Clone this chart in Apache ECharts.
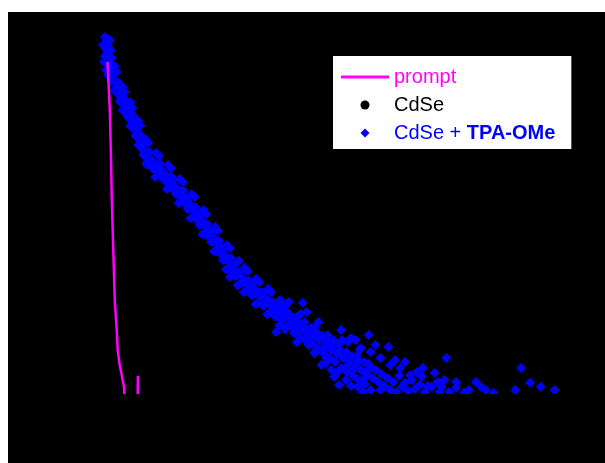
<!DOCTYPE html>
<html>
<head>
<meta charset="utf-8">
<script src="https://cdn.jsdelivr.net/npm/echarts@6.0.0/dist/echarts.min.js"></script>
<style>
  html, body { margin: 0; padding: 0; background: #fff; }
  #chart { position: absolute; left: 8px; top: 12px; width: 597px; height: 451px; }
</style>
</head>
<body>
<div id="chart"></div>
<script>
// decay curves, time in ns, counts on log scale
const promptTime = [1.5, 1.7, 2.0, 2.2, 2.4, 2.7, 3.0, 3.4, 3.6, 4.0, 4.3, 4.6, 4.9, 5.0, 7.6, 7.7, 7.8];
const promptCounts = [4890, 3080, 1430, 514, 143, 39.8, 11.1, 5.14, 3.08, 2.10, 1.76, 1.43, 1.17, 0.8, 0.5, 1.59, 0.5];

// CdSe points are black on the black plot
const cdseTime = [];
const cdseCounts = [];

const tpaTime = [
  1.0, 1.4, 1.0, 1.6, 1.2, 1.6, 1.0, 1.4, 2.0, 1.2, 1.8, 2.2, 2.6, 2.4, 3.0, 3.4, 3.2, 3.8, 4.2, 4.0,
  4.6, 5.0, 4.8, 5.4, 5.8, 5.6, 6.2, 6.6, 6.4, 7.0, 7.4, 7.2, 7.8, 8.2, 8.0, 8.6, 9.0, 8.8, 9.4, 9.8,
  9.6, 10.4, 11.0, 10.6, 11.6, 12.2, 11.8, 12.8, 13.4, 13.0, 14.0, 14.6, 14.2, 15.2, 15.8, 15.4, 16.4, 17.0, 16.6, 17.6,
  18.2, 17.8, 18.8, 19.4, 19.0, 20.0, 20.6, 20.2, 21.2, 21.8, 21.4, 22.4, 23.0, 22.6, 23.6, 24.2, 23.8, 24.8, 25.4, 25.0,
  26.0, 26.6, 26.2, 27.2, 27.8, 27.4, 26.4, 28.4, 29.0, 28.6, 29.6, 30.2, 29.8, 30.8, 31.4, 31.0, 32.0, 32.6, 32.2, 33.2,
  33.8, 33.4, 34.4, 35.0, 34.6, 35.6, 36.2, 35.8, 35.8, 36.8, 37.4, 37.0, 38.0, 38.6, 38.2, 39.2, 39.8, 39.4, 40.4, 41.0,
  40.6, 41.2, 41.6, 42.2, 41.8, 42.8, 43.4, 43.0, 44.0, 44.6, 44.2, 45.2, 45.8, 45.4, 45.0, 46.4, 47.0, 46.6, 47.6, 47.6,
  48.2, 47.8, 48.8, 49.4, 49.0, 50.0, 50.0, 50.6, 50.2, 51.2, 51.8, 51.4, 52.0, 52.4, 52.4, 53.0, 52.6, 53.6, 54.2, 53.8,
  54.6, 54.8, 55.4, 55.0, 56.0, 56.6, 57.2, 57.8, 58.6, 58.4, 59.0, 59.6, 60.0, 60.2, 60.8, 61.4, 62.0, 62.6, 63.4, 64.0,
  64.4, 65.0, 65.4, 66.0, 66.6, 67.4, 68.0, 68.6, 69.4, 70.4, 71.0, 72.4, 72.4, 74.0, 76.4, 77.4, 78.4, 80.0, 84.4, 85.6,
  87.4, 89.6, 92.4,
  // upper side of the band
  0.6, 2.0, 2.2, 2.4, 0.8, 1.6, 2.8,
  3.0, 3.4, 3.6, 4.6, 5.0, 5.2, 6.2, 6.6, 6.8, 7.8, 8.2, 8.4, 9.4, 9.8, 10.0, 11.4, 12.0, 12.2, 13.8, 14.4,
  14.6, 16.2, 16.8, 17.0, 18.6, 19.2, 19.4, 21.0, 21.6, 21.8, 23.4, 24.0, 24.2, 25.8, 26.4, 26.6, 28.2, 29.4,
  30.0, 30.2, 31.8, 32.4, 32.6, 34.2, 34.8, 35.0, 36.6, 37.8, 38.4, 38.6, 40.2, 40.8, 41.0, 42.0, 42.2, 43.8,
  44.4, 44.6, 46.2, 47.4, 48.6, 49.2, 50.4, 52.2, 52.8, 54.6,
  // lower side of the band
  3.0, 4.0, 4.4, 4.6, 5.6, 6.0, 6.2, 7.2, 7.6, 7.8, 8.8, 9.2, 9.4, 10.4, 11.0, 11.2, 12.8, 13.4, 13.6, 15.2,
  15.8, 16.0, 17.6, 18.2, 18.4, 20.0, 20.6, 20.8, 22.4, 23.0, 23.2, 24.8, 25.4, 25.6, 27.2, 27.8, 28.0, 29.0,
  29.2, 30.8, 31.4, 31.6, 33.2, 33.8, 34.0, 35.6, 36.2, 36.4, 37.4, 37.6, 39.2, 39.8, 40.0, 41.6, 42.8, 43.4,
  43.6, 45.2, 45.8, 46.0, 47.0, 48.2, 48.4, 50.0, 51.2, 51.8, 53.6, 54.2,
  // tail
  49.0, 51.0, 53.0, 55.0, 57.0, 56.0, 59.0, 61.0, 63.0, 62.0, 65.6, 57.0, 51.0, 48.6, 47.0, 46.0, 43.6, 42.4,
  53.4, 69.0, 75.0, 70.0
];
const tpaCounts = [
  9260, 8800, 7940, 7550, 6810, 6150, 5700, 5140, 4760, 3980, 4300, 3880, 3420, 3000, 2930, 2580, 2270, 2210, 2000, 1800,
  1760, 1590, 1430, 1470, 1330, 1200, 1170, 1050, 950, 926, 836, 736, 740, 647, 570, 584, 514, 453, 476, 430,
  378, 398, 369, 324, 342, 316, 278, 293, 271, 239, 251, 227, 200, 205, 190, 167, 176, 159, 140, 147,
  129, 114, 120, 105, 92.6, 97.5, 85.8, 75.5, 77.4, 68.1, 60.0, 63.1, 55.5, 48.9, 50.1, 44.1, 38.8, 39.8, 35.0, 30.8,
  32.4, 28.6, 25.1, 26.4, 23.3, 20.5, 20.0, 22.1, 19.5, 17.1, 18.0, 15.9, 14.0, 16.7, 14.7, 12.6, 13.6, 12.0, 10.5, 13.3,
  11.4, 9.75, 10.5, 9.26, 8.15, 10.0, 8.58, 7.36, 4.89, 9.03, 7.74, 6.64, 8.15, 6.99, 5.84, 6.64, 5.70, 4.76, 6.00, 5.14,
  4.30, 10.3, 6.31, 4.76, 3.98, 5.41, 4.41, 3.59, 4.89, 3.98, 3.24, 4.41, 3.50, 2.86, 2.10, 3.98, 3.08, 2.51, 1.55, 3.50,
  2.78, 2.27, 3.08, 2.51, 1.95, 1.43, 2.93, 2.27, 1.76, 2.64, 2.05, 1.59, 3.98, 1.20, 2.39, 1.85, 1.43, 2.27, 1.67, 1.29,
  4.53, 2.05, 1.51, 1.11, 1.85, 1.36, 1.67, 1.23, 3.33, 1.51, 1.11, 1.36, 2.39, 1.05, 1.59, 1.20, 1.33, 1.08, 1.43, 1.14,
  1.76, 1.26, 1.55, 1.05, 1.23, 1.20, 1.71, 1.36, 1.20, 2.51, 1.05, 1.36, 1.17, 1.03, 1.36, 1.20, 1.11, 1.03, 1.11, 1.95,
  1.33, 1.20, 1.11,
  // upper side of the band
  7550, 8580, 6640, 5410, 4890, 3500, 4190,
  4410, 3780, 2930, 2580, 2270, 1840, 1720, 1510, 1230, 1080, 955, 735, 663, 614, 488, 476, 441, 359, 350, 324,
  258, 245, 227, 181, 166, 155, 119, 111, 99.8, 77.4, 71.6, 64.6, 50.1, 45.2, 41.8, 32.4, 30.1, 25.2,
  23.2, 18.1, 19.0, 17.5, 13.5, 14.7, 13.5, 10.5, 11.1, 9.98, 10.5, 7.53, 7.35, 7.74, 5.55, 8.14, 5.13, 5.69,
  6.31, 4.18, 4.52, 3.97, 3.59, 3.97, 3.78, 2.64, 3.08, 2.15,
  // lower side of the band
  2370, 2040, 1750, 1420, 1260, 1160, 948, 830, 732, 581, 511, 461, 358, 340, 314, 256, 250, 231, 189, 179,
  162, 132, 126, 116, 90.1, 83.0, 77.0, 59.6, 53.8, 49.8, 38.6, 34.8, 31.4, 24.3, 22.6, 20.9, 16.2, 17.5,
  13.5, 12.6, 13.2, 9.95, 9.48, 10.5, 7.70, 7.32, 7.90, 5.81, 7.13, 5.25, 5.52, 5.25, 3.76, 4.06, 3.76, 4.27,
  2.84, 3.14, 3.48, 2.26, 3.14, 2.77, 1.79, 1.98, 1.79, 2.09, 1.46, 1.79,
  // tail
  5.14, 4.19, 3.24, 2.93, 2.51, 3.50, 2.10, 1.95, 1.63, 2.27, 1.95, 1.11, 1.23, 1.26, 1.85, 2.51, 2.93, 3.50,
  1.05, 1.05, 1.11, 1.43
];

const zip = (xs, ys) => xs.map((x, i) => [x, ys[i]]);

const chart = echarts.init(document.getElementById('chart'), null, { renderer: 'canvas' });

chart.setOption({
  animation: false,
  backgroundColor: '#000',
  textStyle: { fontFamily: 'Liberation Sans, Arial, sans-serif' },
  grid: { left: 92, right: 5, top: 22, bottom: 69 },
  legend: {
    orient: 'vertical',
    left: 325,
    top: 44,
    backgroundColor: '#fff',
    padding: [9, 16, 4, 8],
    itemGap: 4,
    itemWidth: 48,
    itemHeight: 9,
    selectedMode: false,
    textStyle: {
      fontSize: 20,
      lineHeight: 24,
      fontFamily: 'Liberation Sans, Arial, sans-serif',
      rich: {
        n: { fontSize: 20, lineHeight: 24, color: '#0000ff' },
        b: { fontSize: 20, lineHeight: 24, color: '#0000ff', fontWeight: 'bold' }
      }
    },
    formatter: name => name === 'CdSe + TPA-OMe' ? '{n|CdSe + }{b|TPA-OMe}' : name,
    data: [
      { name: 'prompt', icon: 'path://M0,0H48V3H0Z', textStyle: { color: '#ff00ff' } },
      { name: 'CdSe', icon: 'path://M3,0A3,3,0,1,1,3,6A3,3,0,1,1,3,0Z', itemStyle: { color: '#000' }, textStyle: { color: '#000' } },
      { name: 'CdSe + TPA-OMe', icon: 'path://M4,0L8,4L4,8L0,4Z', itemStyle: { color: '#0000ff' }, textStyle: { color: '#0000ff' } }
    ]
  },
  xAxis: {
    type: 'value',
    min: 0,
    max: 100,
    axisLine: { lineStyle: { color: '#000' } },
    axisTick: { lineStyle: { color: '#000' } },
    axisLabel: { color: '#000' },
    splitLine: { show: false }
  },
  yAxis: {
    type: 'log',
    logBase: 10,
    min: 1,
    max: 10000,
    axisLine: { show: true, lineStyle: { color: '#000' } },
    axisTick: { lineStyle: { color: '#000' } },
    axisLabel: { color: '#000' },
    splitLine: { show: false }
  },
  graphic: [{
    // hides the part of the markers that falls under the bottom edge
    type: 'rect',
    left: 0,
    top: 382,
    z: 100,
    shape: { width: 597, height: 69 },
    style: { fill: '#000' }
  }],
  series: [
    {
      name: 'CdSe',
      type: 'scatter',
      symbol: 'circle',
      symbolSize: 6,
      itemStyle: { color: '#000', opacity: 1 },
      data: zip(cdseTime, cdseCounts)
    },
    {
      name: 'CdSe + TPA-OMe',
      type: 'scatter',
      symbol: 'diamond',
      symbolSize: 10,
      itemStyle: { color: '#0000ff', opacity: 1 },
      data: zip(tpaTime, tpaCounts)
    },
    {
      name: 'prompt',
      type: 'line',
      symbol: 'none',
      z: 5,
      clip: true,
      lineStyle: { color: '#ff00ff', width: 2.5 },
      itemStyle: { color: '#ff00ff' },
      data: zip(promptTime, promptCounts)
    }
  ]
});
</script>
</body>
</html>
